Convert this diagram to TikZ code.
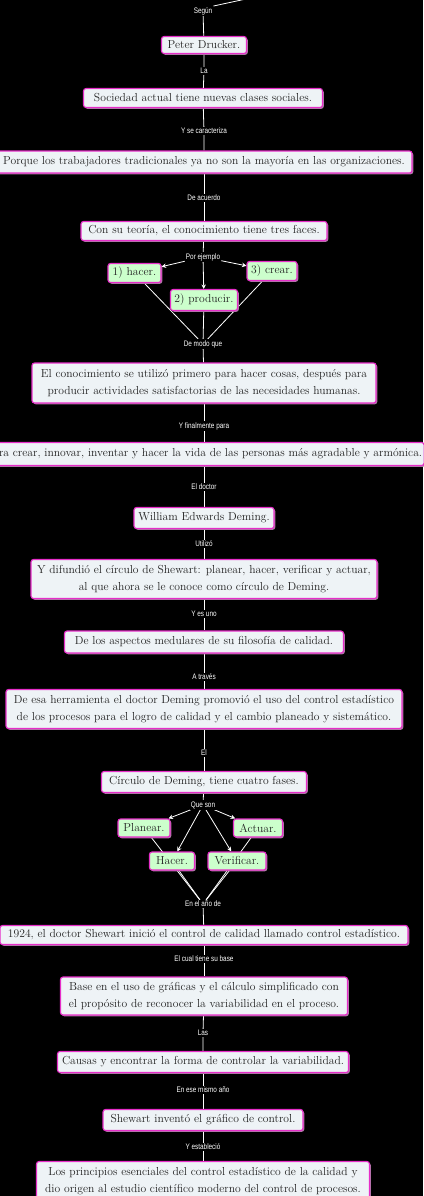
\documentclass[tikz,border=0pt]{standalone}
\usepackage{fontspec}
\usetikzlibrary{arrows.meta,shadows,backgrounds}
\newfontfamily\lblfont[FakeStretch=0.8]{Liberation Sans}
\definecolor{boxfill}{HTML}{EEF3F6}
\definecolor{greenfill}{HTML}{CCFFCC}
\definecolor{boxborder}{HTML}{E62DC8}
\definecolor{boxshadow}{HTML}{B07AA8}
\definecolor{boxtext}{HTML}{222222}
\tikzset{
  box/.style={draw=boxborder, line width=1.1pt, fill=boxfill, rounded corners=2.5pt,
    text=boxtext, font=\fontsize{11.6}{16.5}\selectfont, align=center,
    inner xsep=2pt, inner ysep=1pt,
    drop shadow={shadow xshift=1.3pt, shadow yshift=-1.3pt, fill=boxshadow, opacity=1}},
  gbox/.style={box, fill=greenfill},
  lbl/.style={fill=black, text=white, font=\lblfont\fontsize{8}{9}\selectfont, inner sep=1pt},
  conn/.style={draw=white, line width=0.8pt},
  arr/.style={conn, -{Stealth[length=4.5pt,width=4.5pt]}}
}
\begin{document}
\begin{tikzpicture}[x=1pt,y=1pt]
\useasboundingbox (0,0) rectangle (423,-1196);

% nodes
\node[box, minimum width=85pt, minimum height=17pt] (peter) at (204,-45) {Peter Drucker.};
\node[box, minimum width=239pt, minimum height=19pt] (soc) at (203,-98) {Sociedad actual tiene nuevas clases sociales.};
\node[box, minimum width=416pt, minimum height=22pt] (porque) at (204,-162) {Porque los trabajadores tradicionales ya no son la mayoría en las organizaciones.};
\node[box, minimum width=246pt, minimum height=19pt] (teoria) at (204,-231) {Con su teoría, el conocimiento tiene tres faces.};
\node[gbox, minimum width=53pt, minimum height=19pt] (h1) at (134.5,-273) {1) hacer.};
\node[gbox, minimum width=50pt, minimum height=19pt] (h3) at (272,-271) {3) crear.};
\node[gbox, minimum width=67pt, minimum height=21pt] (h2) at (204,-300) {2) producir.};
\node[box, minimum width=344pt, minimum height=40pt] (conoc) at (204,-383) {El conocimiento se utilizó primero para hacer cosas, después para\\producir actividades satisfactorias de las necesidades humanas.};
\node[box, minimum width=436pt, minimum height=23pt] (para) at (204,-454) {Para crear, innovar, inventar y hacer la vida de las personas más agradable y armónica.};
\node[box, minimum width=140pt, minimum height=21pt] (william) at (204,-518) {William Edwards Deming.};
\node[box, minimum width=346pt, minimum height=39pt] (difund) at (204,-579) {Y difundió el círculo de Shewart: planear, hacer, verificar y actuar,\\al que ahora se le conoce como círculo de Deming.};
\node[box, minimum width=279pt, minimum height=22pt] (aspect) at (204,-642) {De los aspectos medulares de su filosofía de calidad.};
\node[box, minimum width=396pt, minimum height=39pt] (herram) at (204,-709) {De esa herramienta el doctor Deming promovió el uso del control estadístico\\de los procesos para el logro de calidad y el cambio planeado y sistemático.};
\node[box, minimum width=205pt, minimum height=21pt] (circ) at (204,-782) {Círculo de Deming, tiene cuatro fases.};
\node[gbox, minimum width=52pt, minimum height=18pt] (plan) at (144,-828) {Planear.};
\node[gbox, minimum width=49pt, minimum height=18pt] (act) at (258,-828) {Actuar.};
\node[gbox, minimum width=45pt, minimum height=18pt] (hac) at (172,-861) {Hacer.};
\node[gbox, minimum width=58pt, minimum height=18pt] (ver) at (237,-861) {Verificar.};
\node[box, minimum width=408pt, minimum height=19pt] (y1924) at (204,-935) {1924, el doctor Shewart inició el control de calidad llamado control estadístico.};
\node[box, minimum width=287pt, minimum height=38pt] (base) at (204,-996) {Base en el uso de gráficas y el cálculo simplificado con\\el propósito de reconocer la variabilidad en el proceso.};
\node[box, minimum width=291pt, minimum height=21pt] (causas) at (203,-1062) {Causas y encontrar la forma de controlar la variabilidad.};
\node[box, minimum width=200pt, minimum height=21pt] (shew) at (203,-1120) {Shewart inventó el gráfico de control.};
\node[box, minimum width=333pt, minimum height=39pt] (princ) at (203,-1181) {Los principios esenciales del control estadístico de la calidad y\\dio origen al estudio científico moderno del control de procesos.};

% labels
\node[lbl] (lSegun) at (203,-11) {Según};
\node[lbl] (lLa) at (204,-71) {La};
\node[lbl] (lCarac) at (204,-131) {Y se caracteriza};
\node[lbl] (lAcuerdo) at (204,-198) {De acuerdo};
\node[lbl] (lPor) at (203,-257) {Por ejemplo};
\node[lbl] (lModo) at (203,-344) {De modo que};
\node[lbl] (lFinal) at (204,-426) {Y finalmente para};
\node[lbl] (lDoctor) at (204,-487) {El doctor};
\node[lbl] (lUtil) at (204,-544) {Utilizó};
\node[lbl] (lUno) at (204,-614) {Y es uno};
\node[lbl] (lTraves) at (204,-677) {A través};
\node[lbl] (lEl) at (204,-753) {El};
\node[lbl] (lQue) at (203,-805) {Que son};
\node[lbl] (lAnio) at (203,-904) {En el año de};
\node[lbl] (lBase) at (204,-959) {El cual tiene su base};
\node[lbl] (lLas) at (203,-1033) {Las};
\node[lbl] (lMismo) at (203,-1090) {En ese mismo año};
\node[lbl] (lEstab) at (203,-1147) {Y estableció};
\coordinate (topEnd) at (246,1);

% connectors
\begin{scope}[on background layer]
\fill[black] (0,0) rectangle (423,-1196);
\draw[conn] (topEnd) -- (lSegun.north east);
\draw[conn] (lSegun) -- (peter);
\draw[conn] (peter) -- (lLa) -- (soc);
\draw[conn] (soc) -- (lCarac) -- (porque);
\draw[conn] (porque) -- (lAcuerdo) -- (teoria);
\draw[conn] (teoria) -- (lPor);
\draw[arr] (lPor) -- (h1);
\draw[arr] (lPor) -- (h2);
\draw[arr] (lPor) -- (h3);
\draw[conn] (h1) -- (lModo);
\draw[conn] (h2) -- (lModo);
\draw[conn] (h3) -- (lModo);
\draw[conn] (lModo) -- (conoc);
\draw[conn] (conoc) -- (lFinal) -- (para);
\draw[conn] (para) -- (lDoctor) -- (william);
\draw[conn] (william) -- (lUtil) -- (difund);
\draw[conn] (difund) -- (lUno) -- (aspect);
\draw[conn] (aspect) -- (lTraves) -- (herram);
\draw[conn] (herram) -- (lEl) -- (circ);
\draw[conn] (circ) -- (lQue);
\draw[arr] (lQue) -- (plan);
\draw[arr] (lQue) -- (hac);
\draw[arr] (lQue) -- (ver);
\draw[arr] (lQue) -- (act);
\draw[conn] (plan) -- (lAnio);
\draw[conn] (hac) -- (lAnio);
\draw[conn] (ver) -- (lAnio);
\draw[conn] (act) -- (lAnio);
\draw[conn] (lAnio) -- (y1924);
\draw[conn] (y1924) -- (lBase) -- (base);
\draw[conn] (base) -- (lLas) -- (causas);
\draw[conn] (causas) -- (lMismo) -- (shew);
\draw[conn] (shew) -- (lEstab) -- (princ);
\end{scope}
\end{tikzpicture}
\end{document}
